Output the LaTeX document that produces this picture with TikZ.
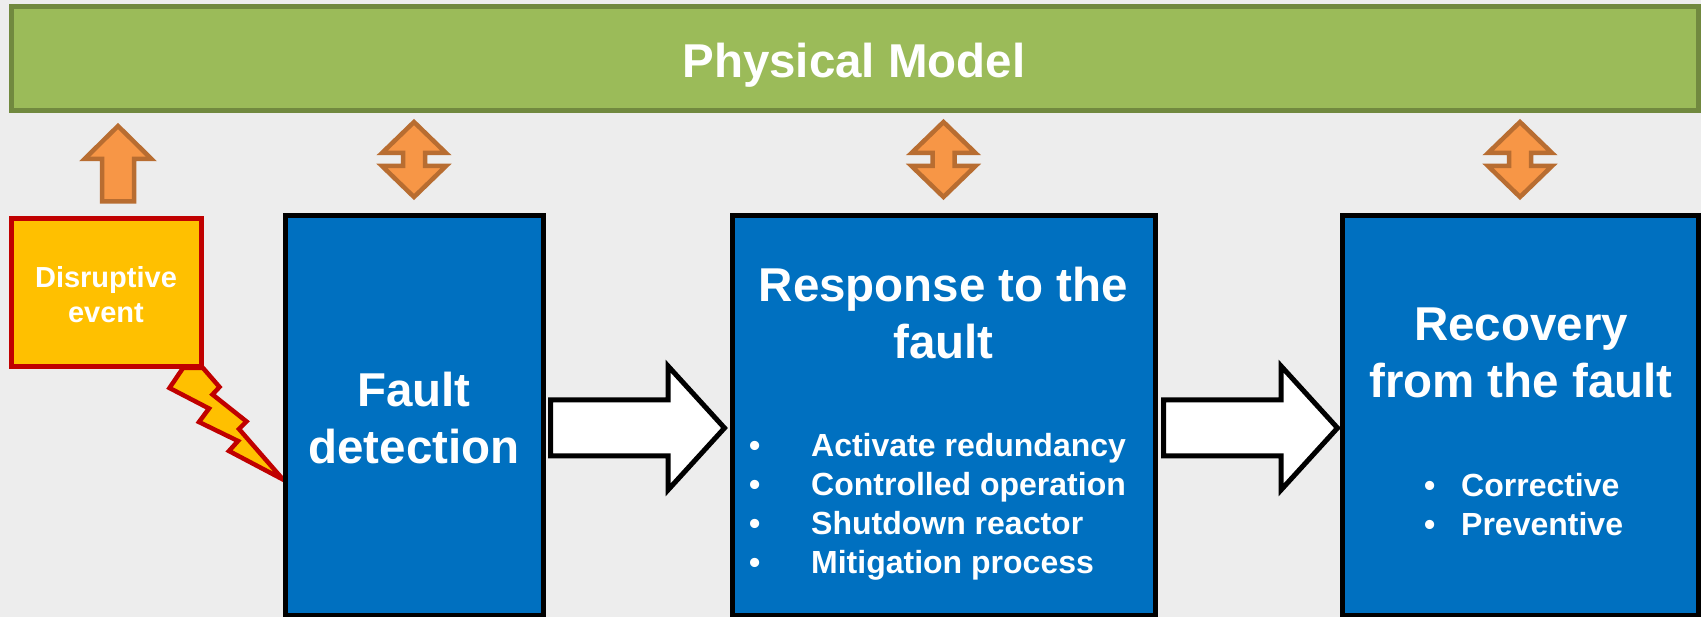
\documentclass[tikz,border=0pt]{standalone}
\usepackage{fontspec}
\setmainfont{Liberation Sans}
\usetikzlibrary{calc}
\definecolor{bgc}{HTML}{EDEDED}
\definecolor{greenf}{HTML}{9BBB59}
\definecolor{greenb}{HTML}{71893F}
\definecolor{boxblue}{HTML}{0070C0}
\definecolor{orangef}{HTML}{F79646}
\definecolor{orangeb}{HTML}{B86D31}
\definecolor{yellowf}{HTML}{FFC000}
\definecolor{redb}{HTML}{C00000}
\tikzset{
  bluebox/.style={draw=black, line width=5pt, fill=boxblue, inner sep=0pt},
  titletext/.style={text=white, font=\bfseries\fontsize{47.5}{57}\selectfont, align=center, inner sep=0pt},
  itemtext/.style={text=white, font=\bfseries\fontsize{32}{39}\selectfont, align=left, inner sep=0pt},
  orangearrow/.style={draw=orangeb, fill=orangef, line width=4.5pt},
  blockarrow/.style={draw=black, fill=white, line width=5pt},
  pics/updown/.style={code={
    \draw[orangearrow] (0,0) -- (-32,31) -- (-11,31) -- (-11,44) -- (-32,44) -- (0,75)
      -- (32,44) -- (11,44) -- (11,31) -- (32,31) -- cycle;}},
  pics/uponly/.style={code={
    \draw[orangearrow] (0,0) -- (-33.5,33) -- (-16,33) -- (-16,75.5) -- (16,75.5)
      -- (16,33) -- (33.5,33) -- cycle;}},
  pics/blockright/.style={code={
    \draw[blockarrow] (0,-28) -- (117.5,-28) -- (117.5,-62) -- (174,0) -- (117.5,62)
      -- (117.5,28) -- (0,28) -- cycle;}},
}
\begin{document}
\begin{tikzpicture}[x=1pt,y=-1pt]
\useasboundingbox[fill=bgc] (0,0) rectangle (1701,617);

% physical model bar
\node[draw=greenb, fill=greenf, line width=5pt, minimum width=1686.5pt, minimum height=103.5pt, inner sep=0pt] (phys) at (854.75,58.75) {};
\node[titletext, anchor=base] (physt) at (854,78) {Physical Model};

% lightning bolt
\draw[draw=redb, fill=yellowf, line width=4.5pt, line join=miter]
  (183,368) -- (169.5,388) -- (209,408.5) -- (199,422) -- (238,441) -- (229,451) -- (283,479.5)
  -- (239,429) -- (246.5,421.5) -- (212.5,394.5) -- (219.5,387) -- (203,368) -- cycle;

% disruptive event
\node[draw=redb, fill=yellowf, line width=5pt, minimum width=190pt, minimum height=148pt, inner sep=0pt] (dis) at (106.5,292.5) {};
\node[text=white, font=\bfseries\fontsize{29}{35}\selectfont, align=center, inner sep=0pt] (dist) at (106,295) {Disruptive\\event};

% blue boxes
\node[bluebox, minimum width=258pt, minimum height=399pt] (fd) at (414,415.5) {};
\node[bluebox, minimum width=423pt, minimum height=399pt] (resp) at (943.5,415.5) {};
\node[bluebox, minimum width=356pt, minimum height=399pt] (rec) at (1520,415.5) {};

\node[titletext] (fdt) at (414,418.5) {Fault\\detection};
\node[titletext] (respt) at (943.5,313) {Response to the\\fault};
\node[titletext] (rect) at (1521,352.5) {Recovery\\from the fault};

\node[itemtext, anchor=west] (respl) at (749,507) {%
  \makebox[62pt][l]{•}Activate redundancy\\
  \makebox[62pt][l]{•}Controlled operation\\
  \makebox[62pt][l]{•}Shutdown reactor\\
  \makebox[62pt][l]{•}Mitigation process};
\node[itemtext, anchor=west] (recl) at (1424,504.5) {%
  \makebox[37pt][l]{•}Corrective\\
  \makebox[37pt][l]{•}Preventive};

% orange arrows
\coordinate (atop) at (0,122);
\pic at (fd.north |- atop) {updown};
\pic at (resp.north |- atop) {updown};
\pic at (rec.north |- atop) {updown};
\pic at (118,126) {uponly};

% block arrows
\pic at (550.5,428) {blockright};
\pic at (1163.5,428) {blockright};
\end{tikzpicture}
\end{document}
